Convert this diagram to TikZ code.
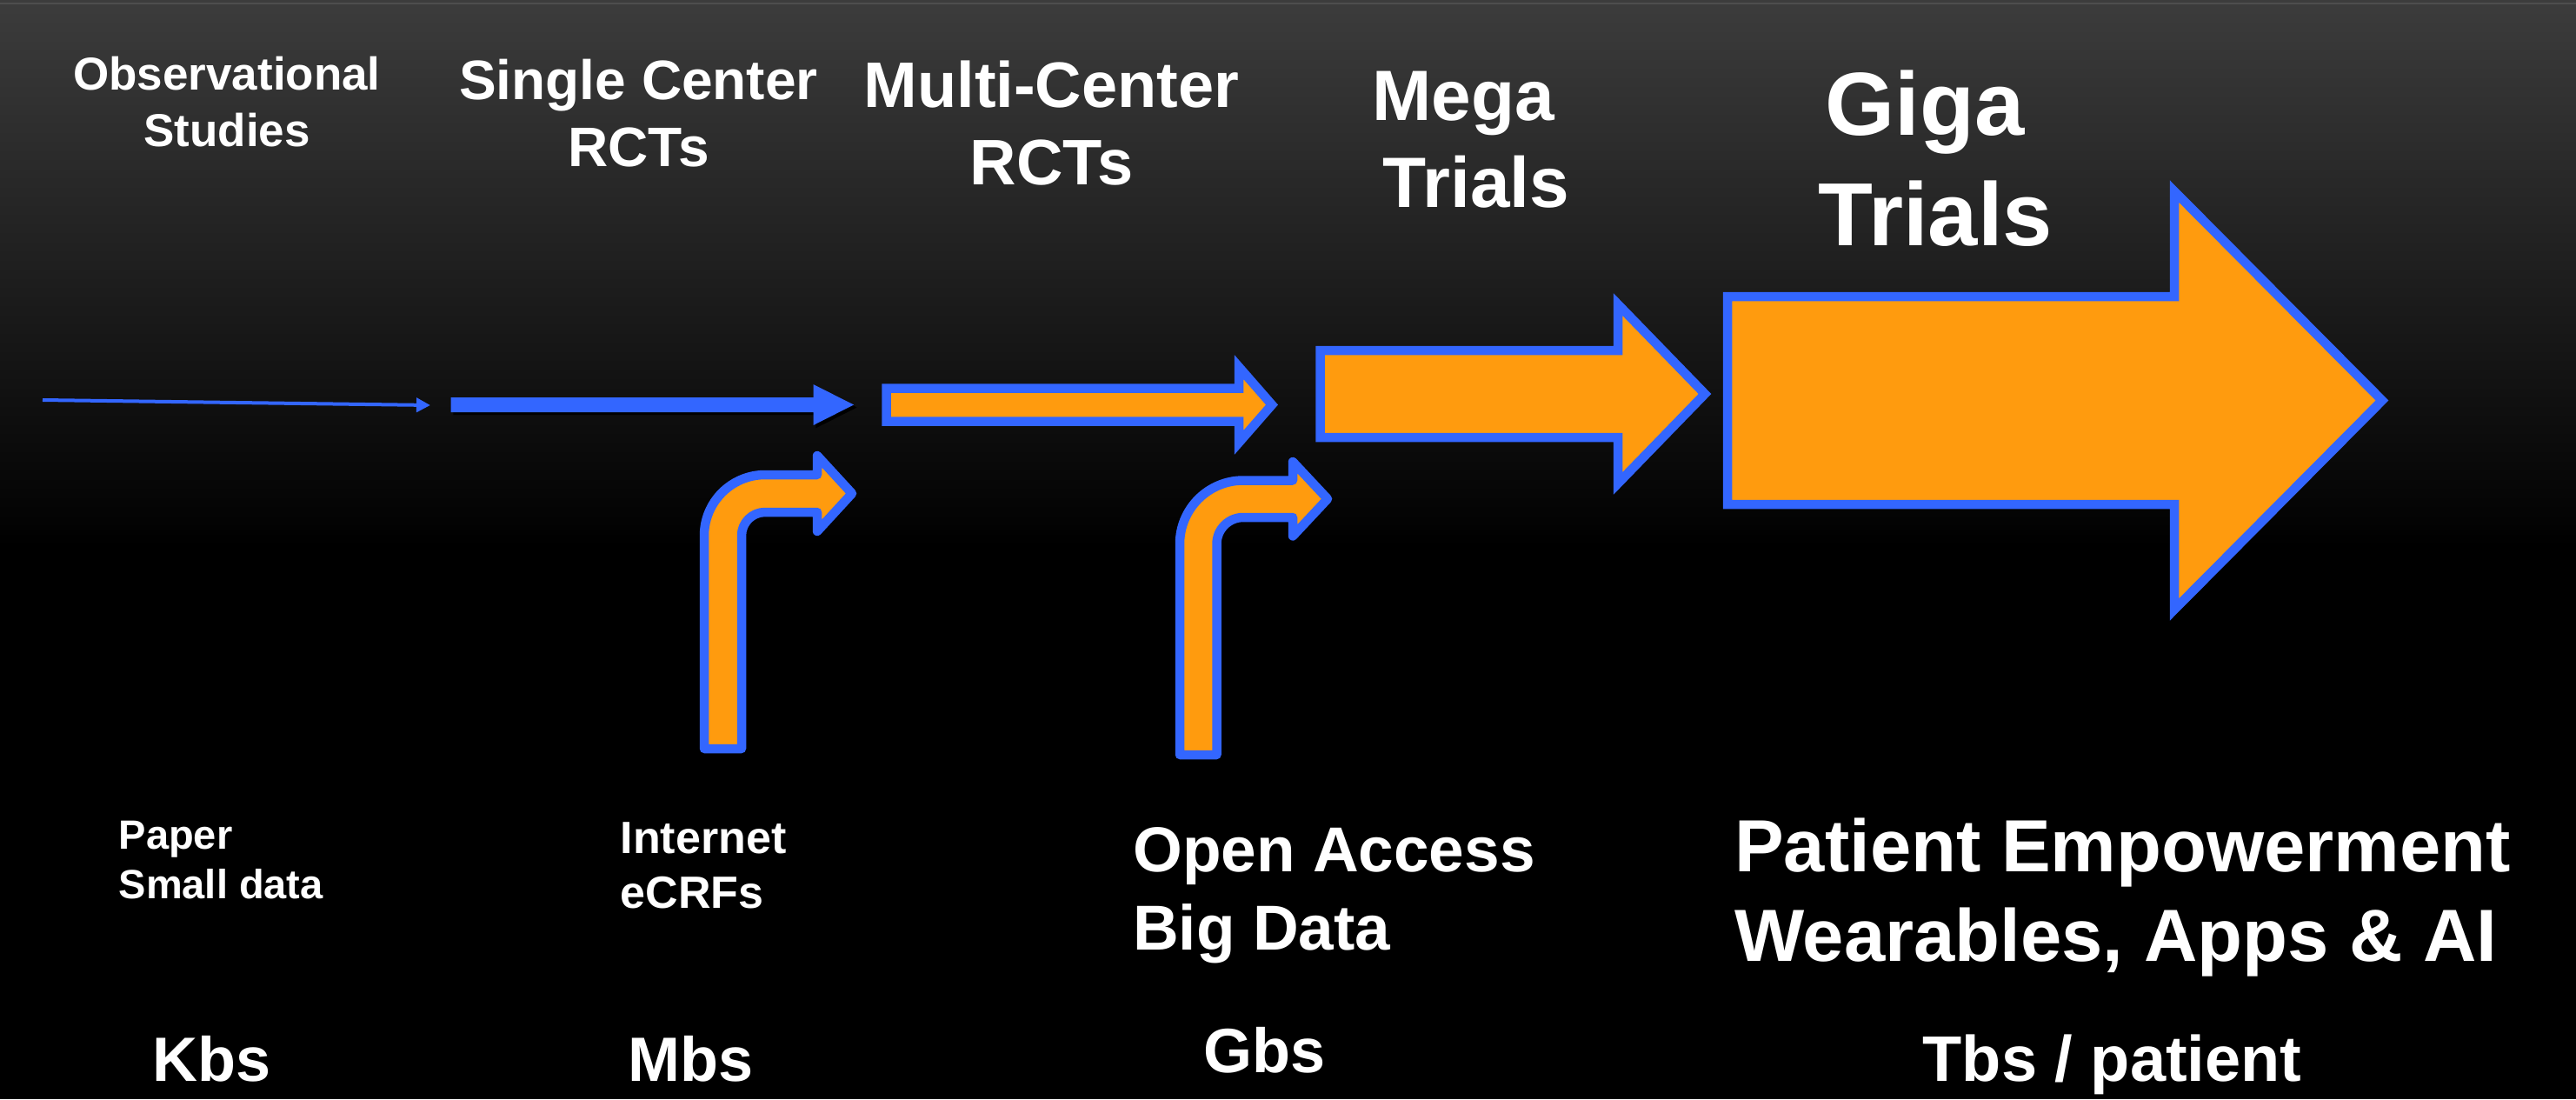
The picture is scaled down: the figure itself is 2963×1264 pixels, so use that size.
\documentclass[tikz,border=0pt]{standalone}
\usepackage{fontspec}
\setmainfont{Liberation Sans}
\usetikzlibrary{arrows.meta}

\definecolor{arrowblue}{RGB}{51,102,255}
\definecolor{arroworange}{RGB}{255,155,14}
\definecolor{bgtop}{RGB}{60,60,60}
\definecolor{bgrim}{RGB}{78,78,78}

% stacked lines whose baseline is the baseline of the first line
\newcommand\stackc[1]{\begin{tabular}[t]{@{}c@{}}#1\end{tabular}}
\newcommand\stackl[1]{\begin{tabular}[t]{@{}l@{}}#1\end{tabular}}
\newcommand\fs[2]{\fontsize{#1}{#2}\selectfont}

\begin{document}
\begin{tikzpicture}[x=1pt,y=-1pt,
  lbl/.style={text=white, inner sep=0pt, anchor=base},
  lblw/.style={text=white, inner sep=0pt, anchor=base west},
  dropshadow/.style={preaction={draw=black, fill=black, transform canvas={shift={(3,3)}}}},
  fatarrow/.style={dropshadow, fill=arroworange, draw=arrowblue, line width=10.5, line join=miter, miter limit=20},
  bentarrow/.style={fatarrow, line join=round},
]
\useasboundingbox (0,0) rectangle (2963,1264);

% background: dark grey fading to black
\fill[black] (0,620) rectangle (2963,1264);
\shade[top color=bgtop, bottom color=black] (0,0) rectangle (2963,630);
\draw[bgrim, line width=2] (0,4) -- (2963,4);

% thin arrow
\coordinate (thinA) at (49,460);
\coordinate (thinB) at (495,466);
\draw[arrowblue, line width=4, -{Triangle[length=16pt,width=16pt]}] (thinA) -- (thinB);

% solid blue arrow
\fill[arrowblue, dropshadow]
  (518.5,457) -- (935.5,457) -- (935.5,442) -- (982,465.5) -- (935.5,489)
  -- (935.5,474) -- (518.5,474) -- cycle;

% multi-center arrow
\draw[fatarrow]
  (1019.5,446.5) -- (1425,446.5) -- (1425,422) -- (1463,465.5) -- (1425,509)
  -- (1425,484.5) -- (1019.5,484.5) -- cycle;

% mega arrow
\draw[fatarrow]
  (1518.5,403) -- (1861,403) -- (1861,350) -- (1961,453) -- (1861,556)
  -- (1861,503) -- (1518.5,503) -- cycle;

% giga arrow
\draw[fatarrow]
  (1987,341) -- (2501,341) -- (2501,220) -- (2740,460.5) -- (2501,701)
  -- (2501,580) -- (1987,580) -- cycle;

% bent arrow (internet)
\draw[bentarrow]
  (810,861) -- (810,616) arc[start angle=180, end angle=270, radius=70]
  -- (940,546) -- (940,524) -- (980,567.5) -- (940,611) -- (940,589)
  -- (880,589) arc[start angle=270, end angle=180, radius=27]
  -- (853,861) -- cycle;

% bent arrow (open access)
\draw[bentarrow]
  (1357,868) -- (1357,625.5) arc[start angle=180, end angle=270, radius=73]
  -- (1487,552.5) -- (1487,531) -- (1527,573.75) -- (1487,616.5) -- (1487,595)
  -- (1430,595) arc[start angle=270, end angle=180, radius=30.5]
  -- (1399.5,868) -- cycle;

% top labels
\node[lbl, font={\bfseries\fs{53}{65}}] (obs) at (261,103) {\stackc{Observational\\Studies}};
\node[lbl, font={\bfseries\fs{64}{77}}] (single) at (734.5,114) {\stackc{Single Center\\RCTs}};
\node[lbl, font={\bfseries\fs{74}{89}}] (multi) at (1209.5,123) {\stackc{Multi-Center\\RCTs}};
\node[lbl, font={\bfseries\fs{82}{100}}] (mega) at (1698,138) {\stackc{Mega\kern30pt\\Trials}};
\node[lbl, font={\bfseries\fs{103}{127}}] (giga) at (2226.5,155) {\stackc{Giga\kern25pt\\Trials}};

% data source labels
\node[lblw, font={\bfseries\fs{47}{57}}] (paper) at (136.5,976) {\stackl{Paper\\Small data}};
\node[lblw, font={\bfseries\fs{52}{63}}] (internet) at (713.5,981) {\stackl{Internet\\eCRFs}};
\node[lblw, font={\bfseries\fs{73}{90}}] (open) at (1303,1002) {\stackl{Open Access\\Big Data}};
\node[lblw, font={\bfseries\fs{85}{103}}] (patient) at (1995,1002) {\stackl{Patient Empowerment\\Wearables, Apps \& AI}};

% data volume labels
\node[lbl, font={\bfseries\fs{72}{86}}] (kbs) at (243.5,1243) {Kbs};
\node[lbl, font={\bfseries\fs{72}{86}}] (mbs) at (794.5,1243) {Mbs};
\node[lbl, font={\bfseries\fs{72}{86}}] (gbs) at (1454.5,1233) {Gbs};
\node[lbl, font={\bfseries\fs{74}{88}}] (tbs) at (2429.5,1243) {Tbs / patient};
\end{tikzpicture}
\end{document}
